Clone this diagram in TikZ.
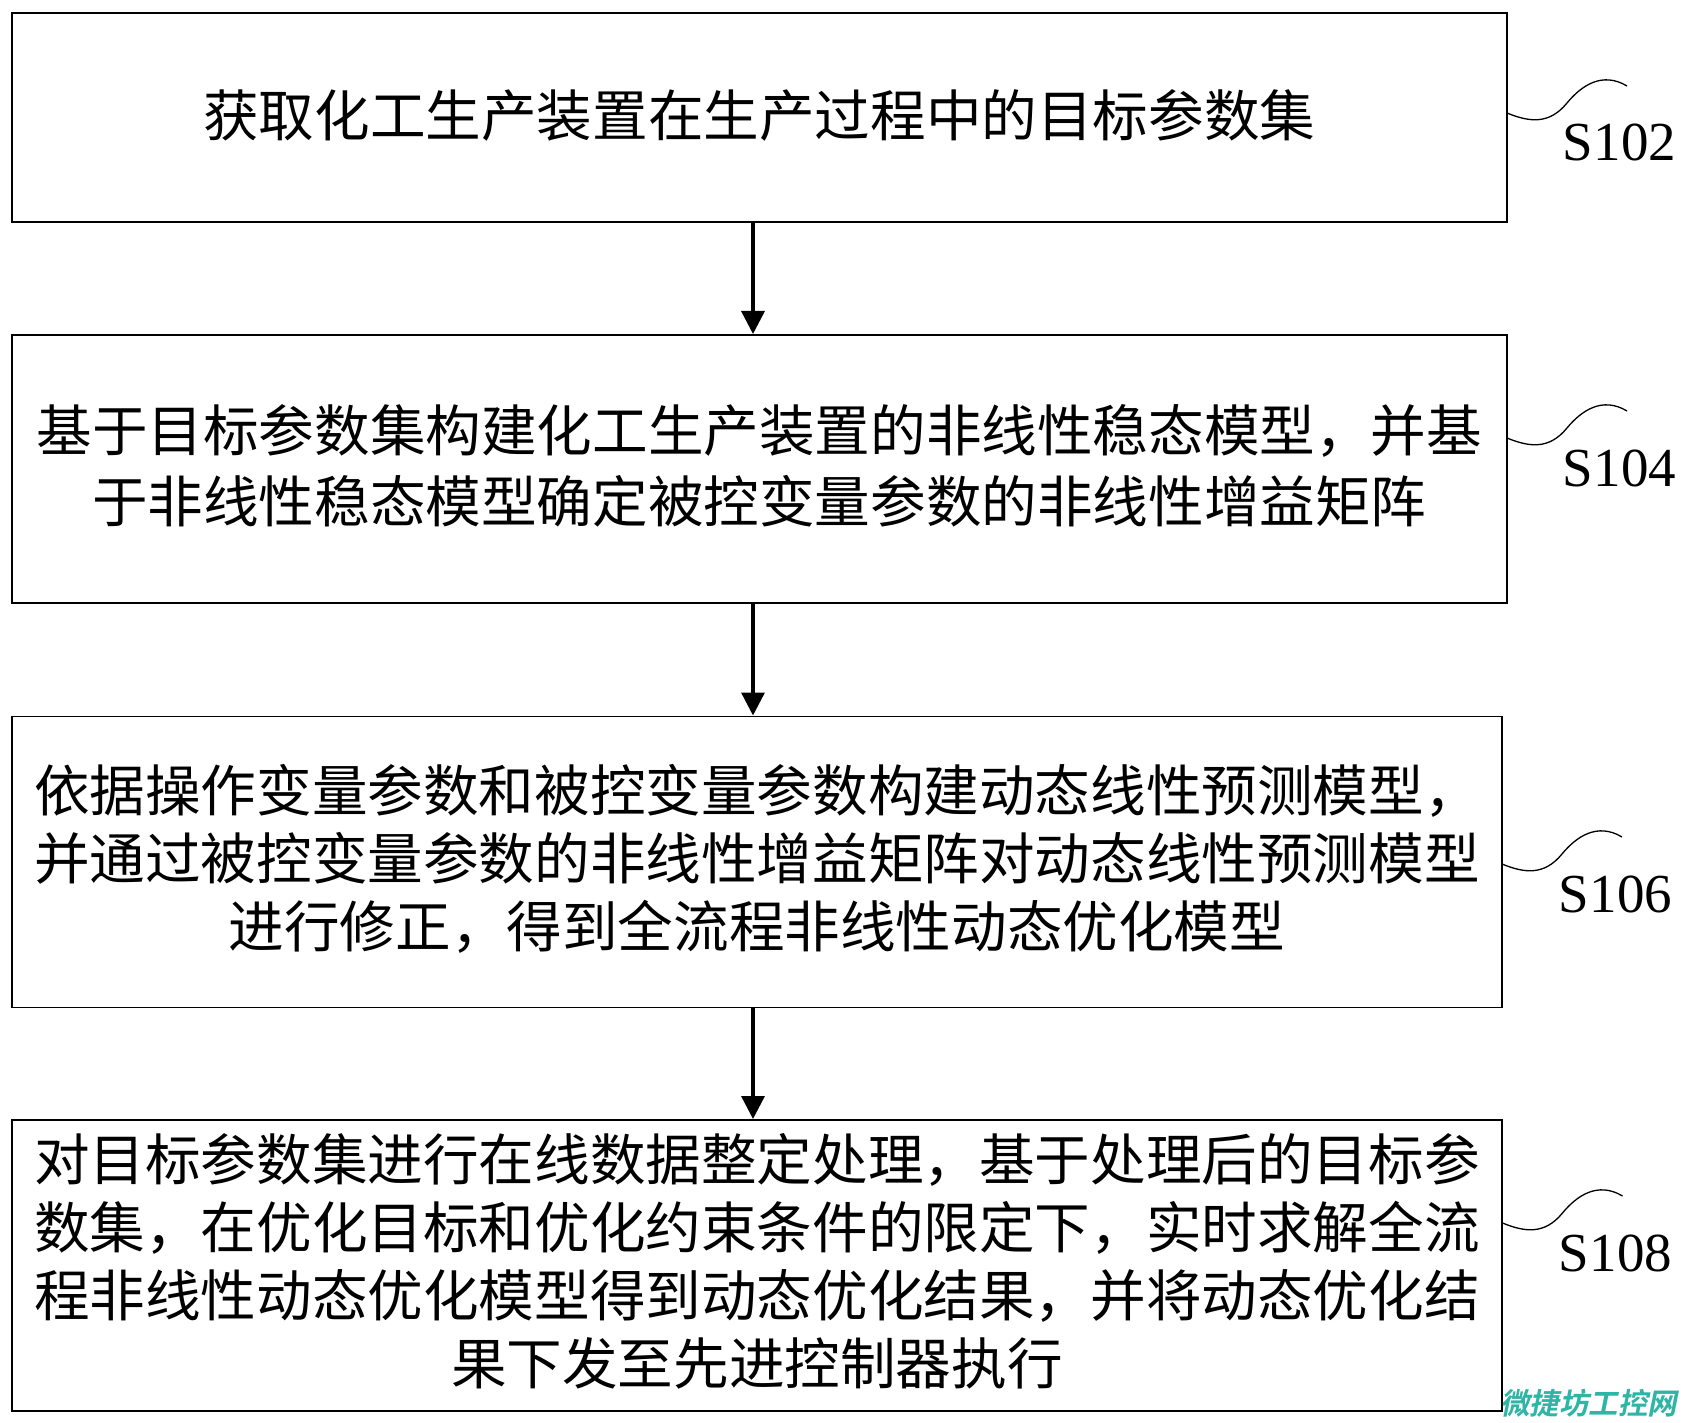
\documentclass[tikz,border=0pt]{standalone}
\usepackage{fontspec}
\usetikzlibrary{arrows.meta,positioning}
\setmainfont{Liberation Serif}
\newfontfamily\cjk{Noto Sans CJK SC}
\newfontfamily\cjkbold{Noto Sans CJK SC Bold}
\definecolor{wmteal}{HTML}{2FB5A5}
\tikzset{
  x=1pt,y=-1pt,
  boxnode/.style={draw=black,line width=1.7pt,inner sep=0pt,anchor=north west},
  textnode/.style={inner sep=0pt,align=center,text=black},
  looseline/.style={font=\cjk\fontsize{55.6}{70.8}\selectfont},
  tightline/.style={font=\cjk\fontsize{55.6}{68}\selectfont},
  flowarrow/.style={line width=3.4pt,-{Triangle[width=23pt,length=23pt]}},
  wave/.style={line width=1.3pt},
  steplabel/.style={font=\fontsize{55}{60}\selectfont,inner sep=0pt},
}
\begin{document}
\begin{tikzpicture}
\useasboundingbox (0,0) rectangle (1682,1423);
\fill[white] (0,0) rectangle (1682,1423);
\node[boxnode,minimum width=1495pt,minimum height=209pt] (b1) at (11,12) {};
\node[boxnode,minimum width=1495pt,minimum height=268pt] (b2) at (11,334) {};
\node[boxnode,minimum width=1490pt,minimum height=291pt] (b3) at (11,715.5) {};
\node[boxnode,minimum width=1490pt,minimum height=291pt] (b4) at (11,1119) {};
\node[textnode,looseline,yshift=1.5pt] (t1) at (b1) {获取化工生产装置在生产过程中的目标参数集};
\node[textnode,looseline,yshift=3pt] (t2) at (b2) {基于目标参数集构建化工生产装置的非线性稳态模型，并基\\于非线性稳态模型确定被控变量参数的非线性增益矩阵};
\node[textnode,tightline,yshift=3pt] (t3) at (b3) {依据操作变量参数和被控变量参数构建动态线性预测模型，\\并通过被控变量参数的非线性增益矩阵对动态线性预测模型\\进行修正，得到全流程非线性动态优化模型};
\node[textnode,tightline,yshift=4pt] (t4) at (b4) {对目标参数集进行在线数据整定处理，基于处理后的目标参\\数集，在优化目标和优化约束条件的限定下，实时求解全流\\程非线性动态优化模型得到动态优化结果，并将动态优化结\\果下发至先进控制器执行};
\coordinate (ax) at (753,0);
\draw[flowarrow] (b1.south -| ax) -- (b2.north -| ax);
\draw[flowarrow] (b2.south -| ax) -- (b3.north -| ax);
\draw[flowarrow] (b3.south -| ax) -- (b4.north -| ax);
\coordinate (w1) at (1507,113);
\coordinate (w2) at (1507,438);
\coordinate (w3) at (1502,864);
\coordinate (w4) at (1502.5,1223);
\foreach \w in {w1,w2,w3,w4}{
  \draw[wave,shift={(\w)}] (0,0) .. controls (22,9) and (42,12) .. (60,-10) .. controls (74,-27) and (95,-42) .. (120,-27);
}
\node[steplabel] (s1) at (1619.5,142) {S102};
\node[steplabel] (s2) at (1619.5,468) {S104};
\node[steplabel] (s3) at (1615.5,894) {S106};
\node[steplabel] (s4) at (1615.5,1253) {S108};
\node[inner sep=0pt,text=wmteal,font=\cjkbold\fontsize{29.5}{29.5}\selectfont,xslant=0.2] (wm) at (1591,1403) {微捷坊工控网};
\end{tikzpicture}
\end{document}
